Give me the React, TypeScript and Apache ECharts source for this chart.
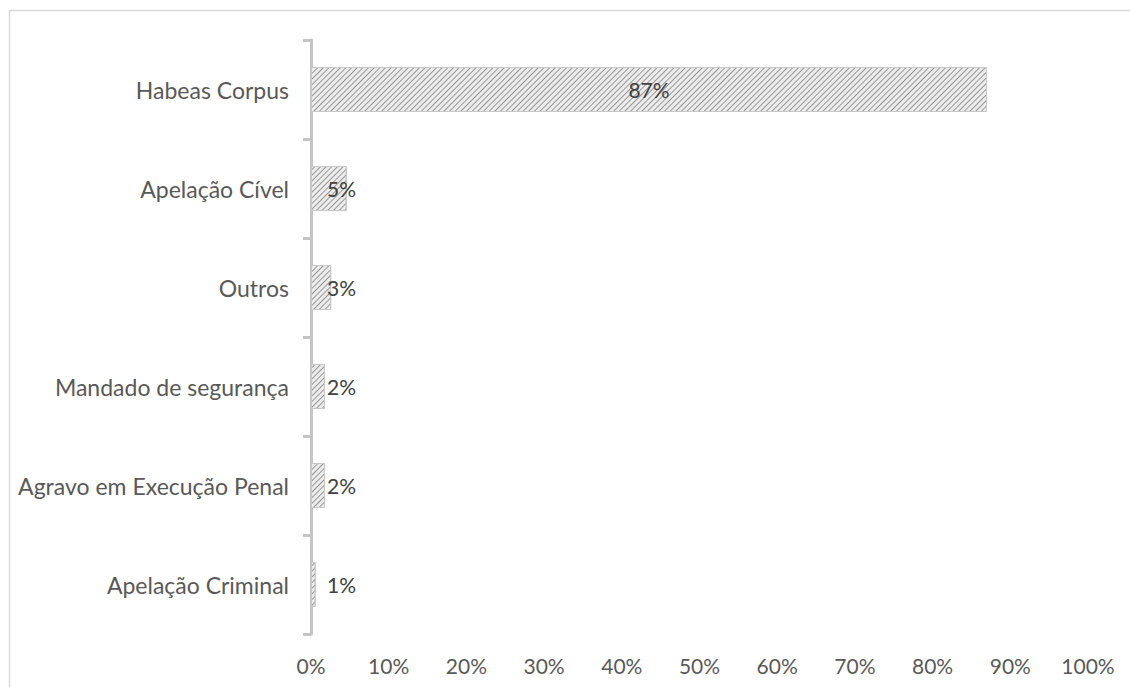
import React, { useEffect, useRef } from "react";
import * as echarts from "echarts";

const categories = [
  "Habeas Corpus",
  "Apelação Cível",
  "Outros",
  "Mandado de segurança",
  "Agravo em Execução Penal",
  "Apelação Criminal",
];
const values = [87.0, 4.6, 2.6, 1.8, 1.8, 0.6];
const xTicks = { min: 0, max: 100, interval: 10 };

export default function App() {
  const ref = useRef<HTMLDivElement>(null);
  useEffect(() => {
    if (!ref.current) return;
    const chart = echarts.init(ref.current, undefined, { renderer: "svg" });
    const font = "Lato";
    chart.setOption({
      animation: false,
      grid: { left: 311, right: 42, top: 40, bottom: 53, containLabel: false },
      graphic: [
        {
          type: "rect",
          shape: { x: 9.5, y: 10.5, width: 1300, height: 1000 },
          style: { fill: "none", stroke: "#d9d9d9", lineWidth: 1.5 },
          silent: true,
        },
      ],
      xAxis: {
        type: "value",
        min: xTicks.min,
        max: xTicks.max,
        interval: xTicks.interval,
        axisLine: { show: false },
        axisTick: { show: false },
        splitLine: { show: false },
        axisLabel: {
          formatter: "{value}%",
          color: "#595959",
          fontFamily: font,
          fontSize: 21,
          margin: 21,
        },
      },
      yAxis: {
        type: "category",
        data: categories,
        inverse: true,
        axisLine: { show: true, lineStyle: { color: "#c4c4c4", width: 3 } },
        axisTick: { show: true, length: 8, lineStyle: { color: "#c4c4c4", width: 3 } },
        axisLabel: {
          color: "#595959",
          fontFamily: font,
          fontSize: 23,
          margin: 22,
        },
      },
      series: [
        {
          type: "bar",
          barWidth: 45,
          data: values.map((v, i) => ({
            value: v,
            label:
              i === 0
                ? { position: "inside" }
                : { position: [16, "50%"], align: "left", verticalAlign: "middle" },
          })),
          itemStyle: {
            color: "#ececec",
            borderColor: "#c8c8c8",
            borderWidth: 1,
            decal: {
              symbol: "rect",
              symbolSize: 1,
              color: "rgba(130,130,130,0.8)",
              dashArrayX: [1, 0],
              dashArrayY: [1, 3],
              rotation: -Math.PI / 4,
            },
          },
          label: {
            show: true,
            color: "#404040",
            fontFamily: font,
            fontSize: 21,
            formatter: (p: any) => Math.round(p.value) + "%",
          },
        },
      ],
    });
    return () => chart.dispose();
  }, []);
  return (
    <div
      ref={ref}
      style={{ position: "absolute", left: 0, top: 0, width: 1130, height: 687, background: "#fff" }}
    />
  );
}
